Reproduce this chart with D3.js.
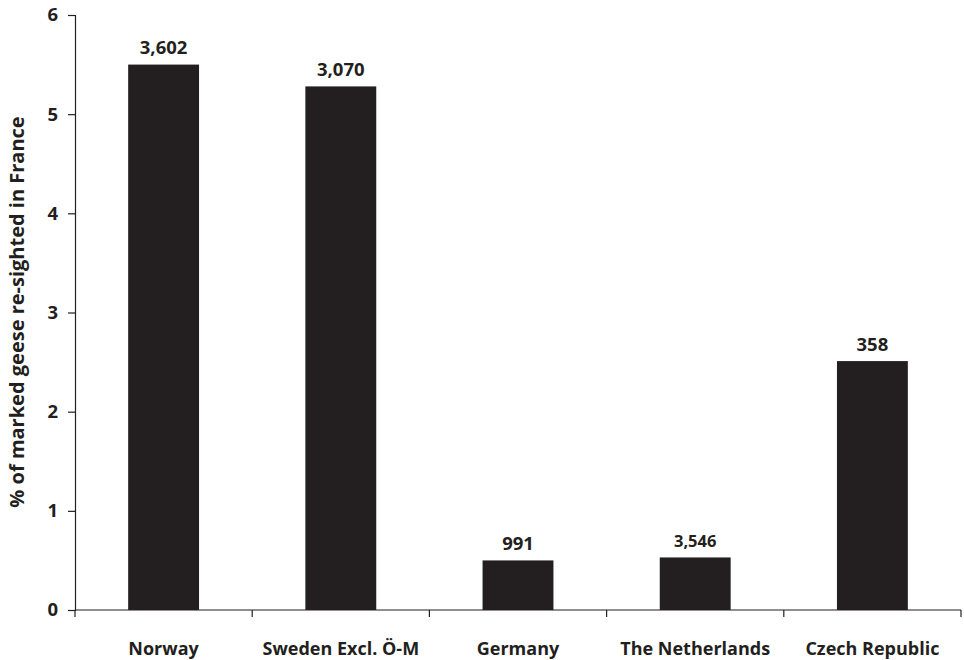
<!DOCTYPE html>
<html>
<head>
<meta charset="utf-8">
<script src="https://cdn.jsdelivr.net/npm/d3@7"></script>
<style>
  html, body { margin: 0; padding: 0; background: #fff; }
  svg { display: block; }
  text { font-family: "Open Sans", sans-serif; font-weight: bold; fill: #231f20; }
</style>
</head>
<body>
<svg id="chart" width="964" height="660"></svg>
<script>
const categories = ["Norway", "Sweden Excl. Ö-M", "Germany", "The Netherlands", "Czech Republic"];
const values = [5.5, 5.28, 0.5, 0.53, 2.51];
const counts = ["3,602", "3,070", "991", "3,546", "358"];
const yTicks = [0, 1, 2, 3, 4, 5, 6];
const yTitle = "% of marked geese re-sighted in France";

(function () {
const svg = d3.select("#chart");
const mLeft = 75, mRight = 961, mTop = 15, mBottom = 610;
const ink = "#231f20";

const x = d3.scaleBand().domain(categories).range([mLeft, mRight]).paddingInner(0).paddingOuter(0);
const y = d3.scaleLinear().domain([0, 6]).range([mBottom, mTop]);
const barW = x.bandwidth() * 0.4;

// bars
svg.selectAll("rect.bar").data(categories).enter().append("rect")
  .attr("class", "bar")
  .attr("x", d => x(d) + (x.bandwidth() - barW) / 2)
  .attr("y", (d, i) => y(values[i]))
  .attr("width", barW)
  .attr("height", (d, i) => y(0) - y(values[i]))
  .attr("fill", ink);

// value labels
svg.selectAll("text.val").data(categories).enter().append("text")
  .attr("class", "val")
  .attr("x", d => x(d) + x.bandwidth() / 2)
  .attr("y", (d, i) => y(values[i]) - 10.5)
  .attr("text-anchor", "middle")
  .attr("font-size", (d, i) => i === 3 ? 16.5 : 18.5)
  .text((d, i) => counts[i]);

// y axis
const yAxis = d3.axisLeft(y).tickValues(yTicks).tickSize(7).tickPadding(10).tickFormat(d3.format("d"));
const gy = svg.append("g").attr("transform", `translate(${mLeft},0)`).call(yAxis);
gy.select(".domain").attr("stroke", ink).attr("stroke-width", 1.2);
gy.selectAll(".tick line").attr("stroke", ink).attr("stroke-width", 1.2);
gy.selectAll(".tick text").attr("font-size", 18.5).attr("font-family", "Open Sans, sans-serif").attr("font-weight", "bold").attr("fill", ink);

// x axis: boundary ticks
const gx = svg.append("g").attr("transform", `translate(0,${mBottom})`);
gx.append("line").attr("x1", mLeft).attr("x2", mRight).attr("y1", 0).attr("y2", 0)
  .attr("stroke", ink).attr("stroke-width", 1.2);
const bounds = categories.map(d => x(d)).concat([x(categories[categories.length - 1]) + x.bandwidth()]);
gx.selectAll("line.tk").data(bounds).enter().append("line")
  .attr("class", "tk")
  .attr("x1", d => d).attr("x2", d => d)
  .attr("y1", 0).attr("y2", 7)
  .attr("stroke", ink).attr("stroke-width", 1.2);
gx.selectAll("text.cat").data(categories).enter().append("text")
  .attr("class", "cat")
  .attr("x", d => x(d) + x.bandwidth() / 2)
  .attr("y", 45)
  .attr("text-anchor", "middle")
  .attr("font-size", 18)
  .text(d => d);

// y title
svg.append("text")
  .attr("transform", `translate(24,312) rotate(-90)`)
  .attr("text-anchor", "middle")
  .attr("font-size", 20)
  .text(yTitle);
})();
</script>
</body>
</html>
